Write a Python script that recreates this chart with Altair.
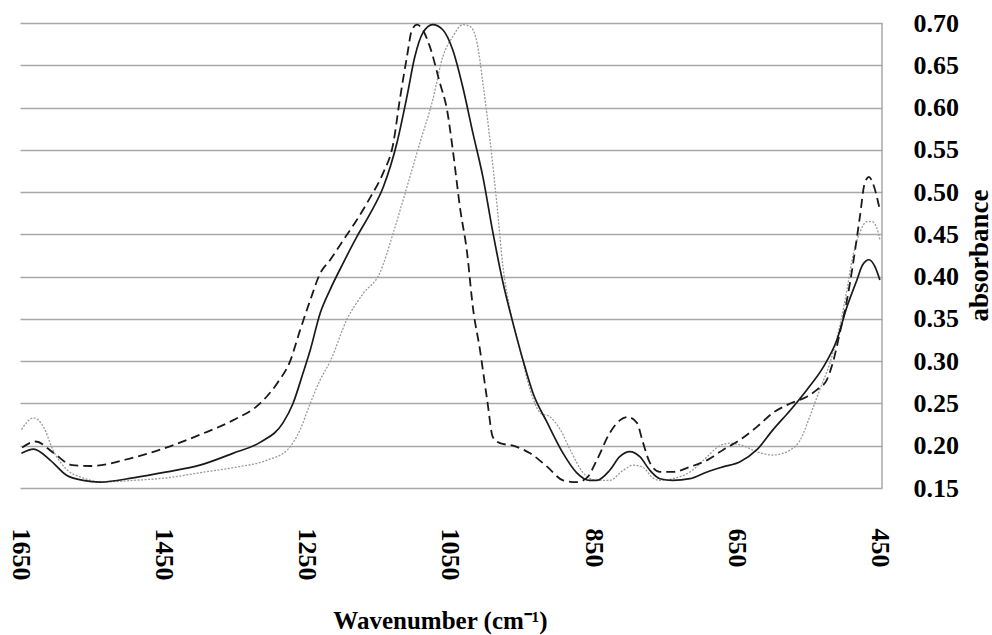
import altair as alt
import pandas as pd

# ---- data ----
dashed_wn = [1647, 1628, 1604, 1577, 1552, 1492, 1445, 1399, 1353, 1315, 1291, 1273, 1259, 1245, 1231, 1217,
             1199, 1180, 1161, 1143, 1129, 1120, 1110, 1103, 1096, 1088, 1078, 1064, 1054, 1046, 1036, 1026,
             1018, 1008, 998, 990, 980, 962, 938, 914, 892, 873, 859, 845, 827, 813, 802, 789, 781, 771, 757,
             739, 715, 691, 669, 645, 622, 599, 575, 552, 538, 524, 515, 506, 496, 488, 478, 471, 465, 460, 450]
dashed_abs = [0.198, 0.205, 0.192, 0.177, 0.176, 0.186, 0.198, 0.213, 0.230, 0.250, 0.274, 0.300, 0.337, 0.372,
              0.404, 0.420, 0.443, 0.467, 0.494, 0.523, 0.558, 0.609, 0.660, 0.692, 0.698, 0.692, 0.672, 0.629,
              0.597, 0.550, 0.482, 0.428, 0.364, 0.313, 0.254, 0.210, 0.203, 0.200, 0.191, 0.175, 0.159, 0.157,
              0.162, 0.183, 0.215, 0.230, 0.234, 0.227, 0.205, 0.180, 0.169, 0.169, 0.175, 0.183, 0.195, 0.207,
              0.222, 0.239, 0.250, 0.258, 0.266, 0.278, 0.300, 0.333, 0.372, 0.412, 0.470, 0.511, 0.518, 0.511,
              0.479]

solid_wn = [1648, 1631, 1608, 1585, 1562, 1538, 1492, 1445, 1399, 1353, 1315, 1283, 1269, 1255, 1245, 1231,
            1217, 1199, 1180, 1161, 1143, 1124, 1110, 1099, 1088, 1074, 1060, 1046, 1032, 1018, 1004, 990, 976,
            962, 948, 934, 914, 892, 873, 855, 845, 827, 813, 799, 785, 771, 757, 739, 715, 691, 669, 645, 622,
            599, 575, 552, 529, 510, 496, 482, 474, 465, 457, 450]
solid_abs = [0.191, 0.196, 0.183, 0.165, 0.159, 0.157, 0.162, 0.169, 0.177, 0.191, 0.204, 0.227, 0.250, 0.286,
             0.313, 0.357, 0.385, 0.416, 0.447, 0.475, 0.506, 0.558, 0.613, 0.660, 0.688, 0.698, 0.692, 0.668,
             0.624, 0.570, 0.518, 0.452, 0.393, 0.345, 0.301, 0.262, 0.227, 0.191, 0.168, 0.159, 0.159, 0.171,
             0.187, 0.193, 0.187, 0.171, 0.161, 0.159, 0.161, 0.169, 0.175, 0.181, 0.195, 0.219, 0.242, 0.266,
             0.293, 0.325, 0.364, 0.396, 0.414, 0.420, 0.412, 0.396]

dotted_wn = [1648, 1631, 1617, 1604, 1585, 1562, 1538, 1492, 1445, 1399, 1353, 1305, 1277, 1259, 1245, 1231,
             1217, 1194, 1171, 1148, 1129, 1110, 1092, 1074, 1060, 1046, 1032, 1022, 1012, 1004, 994, 984, 976,
             966, 952, 938, 924, 910, 896, 882, 864, 845, 827, 808, 794, 780, 767, 757, 739, 715, 691, 677, 659,
             641, 622, 599, 575, 561, 548, 534, 520, 506, 496, 488, 478, 468, 461, 454, 450]
dotted_abs = [0.219, 0.233, 0.222, 0.195, 0.172, 0.162, 0.157, 0.159, 0.162, 0.168, 0.174, 0.183, 0.195, 0.219,
              0.250, 0.278, 0.300, 0.349, 0.380, 0.404, 0.452, 0.506, 0.558, 0.609, 0.660, 0.684, 0.698, 0.696,
              0.676, 0.629, 0.561, 0.482, 0.412, 0.361, 0.313, 0.266, 0.239, 0.234, 0.219, 0.195, 0.168, 0.159,
              0.159, 0.171, 0.177, 0.174, 0.162, 0.159, 0.161, 0.169, 0.187, 0.198, 0.203, 0.200, 0.193, 0.189,
              0.195, 0.207, 0.234, 0.266, 0.297, 0.341, 0.384, 0.423, 0.452, 0.465, 0.465, 0.457, 0.444]

x_ticks = [1650, 1450, 1250, 1050, 850, 650, 450]
y_ticks = [0.15, 0.20, 0.25, 0.30, 0.35, 0.40, 0.45, 0.50, 0.55, 0.60, 0.65, 0.70]

rows = []
for name, wn, ab in [("dashed", dashed_wn, dashed_abs), ("solid", solid_wn, solid_abs),
                     ("dotted", dotted_wn, dotted_abs)]:
    for i, (w, a) in enumerate(zip(wn, ab)):
        rows.append({"series": name, "wn": w, "abs": a, "order": i})
df = pd.DataFrame(rows)

FONT = "Liberation Serif"

x_enc = alt.X("wn:Q",
              scale=alt.Scale(domain=[447, 1650], reverse=True, nice=False, zero=False),
              axis=alt.Axis(values=x_ticks, format="d", labelAngle=90, labelPadding=40, ticks=False,
                            tickSize=0, domain=False, grid=False, labelFont=FONT, labelFontWeight="bold",
                            labelFontSize=26, labelColor="black", labelFlush=False,
                            title="Wavenumber (cm⁻¹)", titleFont=FONT, titleFontWeight="bold",
                            titleFontSize=25, titleColor="black", titleX=420, titleY=132,
                            titleAlign="center", titleBaseline="middle"))
y_enc = alt.Y("abs:Q",
              scale=alt.Scale(domain=[0.15, 0.70], nice=False, zero=False),
              axis=alt.Axis(orient="right", values=y_ticks, format=".2f", labelPadding=31, ticks=False,
                            tickSize=0, domain=False, grid=True, gridColor="#a8a8a8", gridWidth=1.5,
                            labelFont=FONT, labelFontWeight="bold", labelFontSize=26, labelColor="black",
                            labelFlush=False,
                            title="absorbance", titleFont=FONT, titleFontWeight="bold", titleFontSize=27,
                            titleColor="black", titleAngle=270, titleX=97, titleY=232,
                            titleAlign="center", titleBaseline="middle"))

base = alt.Chart(df)

dotted = base.transform_filter(alt.datum.series == "dotted").mark_line(
    color="#9a9a9a", strokeWidth=1.3, strokeDash=[2, 1.5], interpolate="monotone"
).encode(x=x_enc, y=y_enc, order="order:Q")

solid = base.transform_filter(alt.datum.series == "solid").mark_line(
    color="#1a1a1a", strokeWidth=1.7, interpolate="monotone"
).encode(x=x_enc, y=y_enc, order="order:Q")

dashed = base.transform_filter(alt.datum.series == "dashed").mark_line(
    color="#1a1a1a", strokeWidth=1.8, strokeDash=[9, 5], interpolate="monotone"
).encode(x=x_enc, y=y_enc, order="order:Q")

border = alt.Chart(pd.DataFrame({"edge": [447]})).mark_rule(color="#a8a8a8", strokeWidth=1.5).encode(
    x=alt.X("edge:Q")
)

chart = alt.layer(dotted, solid, dashed, border).properties(
    width=862, height=465,
    autosize=alt.AutoSizeParams(type="none"),
    padding={"left": 20, "top": 23, "right": 110, "bottom": 147},
    background="white",
).configure_view(stroke=None)

chart.save("out.html", embed_options={"renderer": "svg", "actions": False})
